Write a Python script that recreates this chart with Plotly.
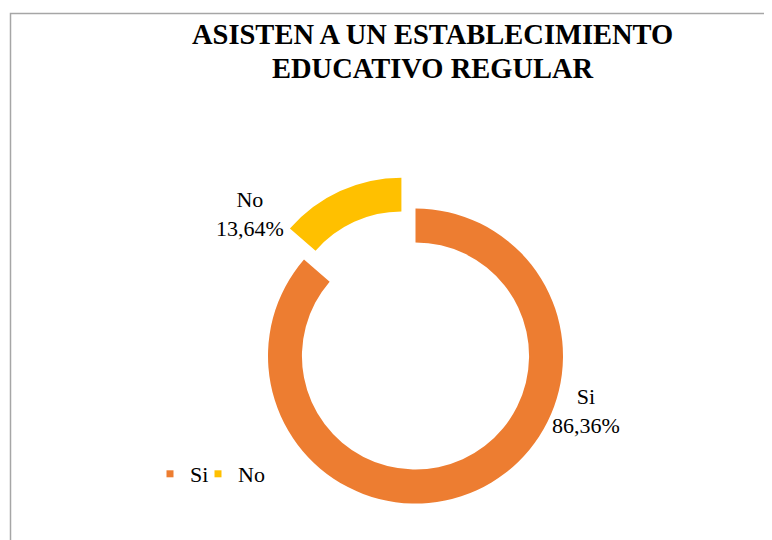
import plotly.graph_objects as go

categories = ["Si", "No"]
values = [86.36, 13.64]
value_labels = ["86,36%", "13,64%"]
colors = ["#ED7D31", "#FFC000"]
pulls = [0, 0.23]
title_lines = ["ASISTEN A UN ESTABLECIMIENTO", "EDUCATIVO REGULAR"]

W, H = 772, 540
OFF = 8  # page body margin offset
FONT = "Liberation Serif, Times New Roman, serif"


def px_x(x):
    return (x - OFF) / W


def px_y(y):
    return 1 - (y - OFF) / H


fig = go.Figure()
fig.add_trace(go.Pie(
    labels=categories,
    values=values,
    marker=dict(colors=colors, line=dict(width=0)),
    hole=0.77,
    pull=pulls,
    sort=False,
    direction="clockwise",
    rotation=0,
    textinfo="none",
    hoverinfo="label+percent",
    showlegend=False,
    domain=dict(x=[0.2928, 0.7629], y=[0.01957, 0.69151]),
))

# legend entries (small square swatches)
legend_names = ["legend", "legend2"]
for cat, col, lg in zip(categories, colors, legend_names):
    fig.add_trace(go.Scatter(
        x=[None], y=[None], mode="markers", name=cat, legend=lg,
        marker=dict(symbol="square", size=7, color=col),
        hoverinfo="skip",
    ))

annotations = []
for line, ty in zip(title_lines, [34, 68]):
    annotations.append(dict(
        text=f"<b>{line}</b>", x=px_x(433), y=px_y(ty),
        xref="paper", yref="paper", xanchor="center", yanchor="middle",
        showarrow=False, font=dict(family=FONT, size=28.5, color="black")))

label_pos = {"Si": (586, 411), "No": (250, 214)}
for cat, vl in zip(categories, value_labels):
    lx, ly = label_pos[cat]
    annotations.append(dict(
        text=f"{cat}<br>{vl}", x=px_x(lx), y=px_y(ly),
        xref="paper", yref="paper", xanchor="center", yanchor="middle",
        showarrow=False, font=dict(family=FONT, size=22, color="black")))

legend_common = dict(
    orientation="h", xanchor="left", yanchor="middle", y=px_y(474),
    font=dict(family=FONT, size=22, color="black"),
    bgcolor="rgba(0,0,0,0)", itemwidth=30,
)

fig.update_layout(
    width=W, height=H,
    margin=dict(l=0, r=0, t=0, b=0),
    paper_bgcolor="white", plot_bgcolor="white",
    font=dict(family=FONT),
    xaxis=dict(visible=False), yaxis=dict(visible=False),
    annotations=annotations,
    legend=dict(x=px_x(150), **legend_common),
    legend2=dict(x=px_x(198), **legend_common),
    shapes=[dict(type="rect", xref="paper", yref="paper",
                 x0=px_x(10.5), x1=1.05, y0=-0.05, y1=px_y(13.5),
                 line=dict(color="#A6A6A6", width=1.5),
                 fillcolor="rgba(0,0,0,0)", layer="below")],
)

fig.write_html("out.html")
